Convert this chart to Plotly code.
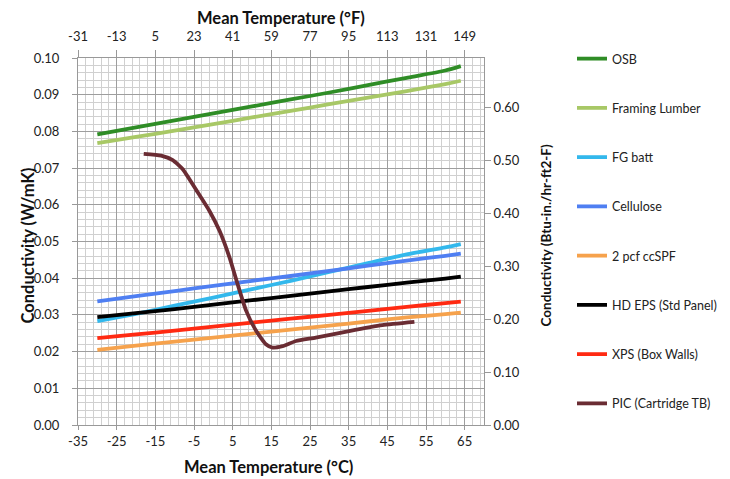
import plotly.graph_objects as go

# ---- data ----
temps_c = [-30, -20, -10, 0, 10, 20, 30, 40, 50, 60, 64]

osb = [0.0792, 0.0811, 0.0830, 0.0849, 0.0868, 0.0887, 0.0906, 0.0926, 0.0946, 0.0966, 0.0978]
framing_lumber = [0.0768, 0.0785, 0.0802, 0.0820, 0.0838, 0.0856, 0.0874, 0.0892, 0.0910, 0.0929, 0.0938]
fg_batt = [0.0283, 0.0303, 0.0325, 0.0347, 0.0370, 0.0393, 0.0417, 0.0441, 0.0465, 0.0484, 0.0493]
cellulose = [0.0337, 0.0351, 0.0365, 0.0379, 0.0393, 0.0406, 0.0420, 0.0434, 0.0448, 0.0461, 0.0467]
ccspf = [0.0205, 0.0216, 0.0227, 0.0238, 0.0249, 0.0260, 0.0271, 0.0282, 0.0293, 0.0302, 0.0306]
hd_eps = [0.0294, 0.0305, 0.0316, 0.0328, 0.0340, 0.0352, 0.0364, 0.0376, 0.0388, 0.0399, 0.0404]
xps = [0.0237, 0.0247, 0.0257, 0.0268, 0.0279, 0.0290, 0.0300, 0.0311, 0.0322, 0.0332, 0.0336]

pic_temps_c = [-18.0, -13.5, -10.5, -7.9, -4.4, -1.0, 1.6, 4.2, 6.3, 8.5, 11.1, 13.6, 15.3, 17.9, 21.4, 26.5, 35.1, 43.7, 52.0]
pic = [0.0739, 0.0734, 0.0722, 0.0697, 0.0640, 0.0583, 0.0529, 0.0456, 0.0383, 0.0311, 0.0256, 0.0220, 0.0211,
       0.0215, 0.0229, 0.0238, 0.0256, 0.0272, 0.0281]

c_ticks = [-35, -25, -15, -5, 5, 15, 25, 35, 45, 55, 65]
f_ticks = [-31, -13, 5, 23, 41, 59, 77, 95, 113, 131, 149]
si_ticks = [0.00, 0.01, 0.02, 0.03, 0.04, 0.05, 0.06, 0.07, 0.08, 0.09, 0.10]
imp_ticks = [0.00, 0.10, 0.20, 0.30, 0.40, 0.50, 0.60]

x_range_c = [-35, 70]
x_range_f = [-31, 158]
y_range_si = [0, 0.10]
W_TO_BTU = 6.933
y_range_imp = [0, 0.10 * W_TO_BTU]

series = [
    ("OSB", temps_c, osb, "#2f8d26"),
    ("Framing Lumber", temps_c, framing_lumber, "#a8c866"),
    ("FG batt", temps_c, fg_batt, "#33b8ec"),
    ("Cellulose", temps_c, cellulose, "#4f7ff2"),
    ("2 pcf ccSPF", temps_c, ccspf, "#f6a24c"),
    ("HD EPS (Std Panel)", temps_c, hd_eps, "#000000"),
    ("XPS (Box Walls)", temps_c, xps, "#ff2a12"),
    ("PIC (Cartridge TB)", pic_temps_c, pic, "#6a2c33"),
]

FONT = "Lato"
fig = go.Figure()
for i, (name, xs, ys, color) in enumerate(series):
    fig.add_trace(go.Scatter(
        x=xs, y=ys, name=name, mode="lines",
        line=dict(color=color, width=3.8, shape="spline", smoothing=0.5),
        legendgroup=f"g{i}",
    ))

# invisible traces to activate secondary axes
fig.add_trace(go.Scatter(x=x_range_f, y=[None, None], xaxis="x2", yaxis="y",
                         showlegend=False, hoverinfo="skip"))
fig.add_trace(go.Scatter(x=x_range_c, y=[None, None], xaxis="x", yaxis="y2",
                         showlegend=False, hoverinfo="skip"))

tickfont = dict(family=FONT, size=13, color="#222222")
titlefont = dict(family=FONT, size=16.5, color="#111111", weight="bold")
AX = "#999999"

# page has an 8px body margin, so the figure is sized/offset to compensate
W, H = 722, 471
L, R, T, B = 70, 246, 50, 54
PW, PH = W - L - R, H - T - B

fig.update_layout(
    width=W, height=H,
    margin=dict(l=L, r=R, t=T, b=B, autoexpand=False),
    paper_bgcolor="white", plot_bgcolor="white",
    font=dict(family=FONT, size=13, color="#222222"),
    showlegend=True,
    legend=dict(
        x=(564 - L) / PW, xref="paper", xanchor="left",
        y=1.0 + 14 / PH, yanchor="top", yref="paper",
        font=dict(family=FONT, size=12.5, color="#222222"),
        tracegroupgap=30, itemwidth=30, maxheight=470,
        bgcolor="rgba(0,0,0,0)",
    ),
    xaxis=dict(
        range=x_range_c, tickmode="array", tickvals=c_ticks,
        ticktext=[str(v) for v in c_ticks],
        showgrid=True, gridcolor="#9e9e9e", gridwidth=1,
        minor=dict(dtick=2, tick0=-35, showgrid=True, gridcolor="#d0d0d0", gridwidth=1),
        showline=True, linecolor=AX, linewidth=1,
        ticks="outside", ticklen=4, tickcolor=AX,
        tickfont=tickfont, zeroline=False,
    ),
    xaxis2=dict(
        range=x_range_f, overlaying="x", side="top", anchor="y",
        tickmode="array", tickvals=f_ticks, ticktext=[str(v) for v in f_ticks],
        showgrid=False, showline=True, linecolor=AX,
        ticks="outside", ticklen=7, tickcolor=AX, ticklabelstandoff=4,
        tickfont=tickfont, zeroline=False,
    ),
    yaxis=dict(
        range=y_range_si, tickmode="array", tickvals=si_ticks,
        ticktext=[f"{v:.2f}" for v in si_ticks],
        showgrid=True, gridcolor="#9e9e9e", gridwidth=1,
        minor=dict(dtick=0.002, tick0=0, showgrid=True, gridcolor="#d0d0d0", gridwidth=1),
        showline=True, linecolor=AX, linewidth=1,
        ticks="outside", ticklen=5, tickcolor=AX, ticklabelstandoff=10,
        tickfont=tickfont, zeroline=False,
    ),
    yaxis2=dict(
        range=y_range_imp, overlaying="y", side="right", anchor="x",
        tickmode="array", tickvals=imp_ticks, ticktext=[f"{v:.2f}" for v in imp_ticks],
        showgrid=False, showline=True, linecolor=AX,
        ticks="outside", ticklen=6, tickcolor=AX,
        tickfont=tickfont, zeroline=False,
    ),
    annotations=[
        dict(text="Mean Temperature (°F)", xref="paper", yref="paper", x=0.5, y=1,
             xanchor="center", yanchor="middle", yshift=40, showarrow=False, font=titlefont),
        dict(text="Mean Temperature (°C)", xref="paper", yref="paper", x=0.5, y=0,
             xanchor="center", yanchor="middle", xshift=-13, yshift=-42, showarrow=False,
             font=titlefont),
        dict(text="Conductivity (W/mK)", xref="paper", yref="paper", x=0, y=0.5,
             xanchor="center", yanchor="middle", xshift=-51, yshift=-4, textangle=-90,
             showarrow=False, font=titlefont),
        dict(text="Conductivity (Btu-in./hr-ft2-F)", xref="paper", yref="paper", x=1, y=0.5,
             xanchor="center", yanchor="middle", xshift=61, yshift=6, textangle=-90,
             showarrow=False, font=dict(family=FONT, size=13.5, color="#111111", weight="bold")),
    ],
)

fig.write_html("out.html")
